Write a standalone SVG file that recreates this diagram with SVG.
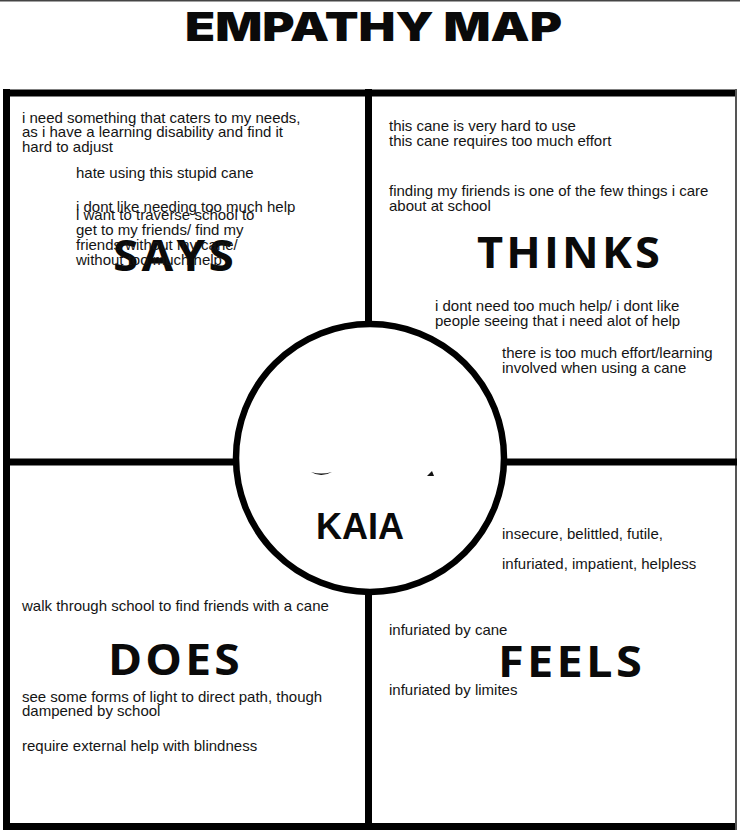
<svg xmlns="http://www.w3.org/2000/svg" width="740" height="831" viewBox="0 0 740 831">
<style>
.t{font-family:"Liberation Sans",Arial,sans-serif;font-size:15px;fill:#141414}
.lbl{font-family:"Open Sans","Liberation Sans",sans-serif;font-weight:700;font-size:43px;fill:#0a0a0a;letter-spacing:3px}
.ttl{font-family:Inter,"Liberation Sans",sans-serif;font-weight:900;font-size:40px;fill:#0a0a0a}
.line{stroke:#000;stroke-width:7;fill:none}
</style>
<rect width="740" height="831" fill="#fff"/>
<rect x="0" y="0" width="740" height="1.5" fill="#444"/>
<g id="title"><text class="ttl" x="185" y="41" textLength="377" lengthAdjust="spacingAndGlyphs">EMPATHY MAP</text></g>
<g id="connectors">
<line class="line" x1="3" y1="93" x2="737" y2="93"/>
<line class="line" x1="6.5" y1="89" x2="6.5" y2="830"/>
<line class="line" x1="3" y1="826.5" x2="737" y2="826.5"/>
<line x1="736" y1="89" x2="736" y2="830" stroke="#555" stroke-width="2"/>
<line class="line" x1="368.5" y1="89" x2="368.5" y2="830"/>
<line class="line" x1="3" y1="462" x2="737" y2="462"/>
</g>
<g id="says">
<text class="lbl" x="113" y="271" textLength="124" lengthAdjust="spacingAndGlyphs" font-weight="800" letter-spacing="0">SAYS</text>
<text class="t" x="22" y="123">i need something that caters to my needs,</text>
<text class="t" x="22" y="137">as i have a learning disability and find it</text>
<text class="t" x="22" y="152">hard to adjust</text>
<text class="t" x="76" y="178">hate using this stupid cane</text>
<text class="t" x="76" y="212">i dont like needing too much help</text>
<text class="t" x="76" y="220">i want to traverse school to</text>
<text class="t" x="76" y="235">get to my friends/ find my</text>
<text class="t" x="76" y="250">friends without my cane/</text>
<text class="t" x="76" y="265">without too much help</text>
</g>
<g id="thinks">
<text class="lbl" x="477" y="268" textLength="186" lengthAdjust="spacingAndGlyphs">THINKS</text>
<text class="t" x="389" y="131">this cane is very hard to use</text>
<text class="t" x="389" y="146">this cane requires too much effort</text>
<text class="t" x="389" y="196">finding my firiends is one of the few things i care</text>
<text class="t" x="389" y="211">about at school</text>
<text class="t" x="435" y="311">i dont need too much help/ i dont like</text>
<text class="t" x="435" y="326">people seeing that i need alot of help</text>
<text class="t" x="502" y="358">there is too much effort/learning</text>
<text class="t" x="502" y="373">involved when using a cane</text>
</g>
<g id="does">
<text class="lbl" x="108" y="675" textLength="135" lengthAdjust="spacingAndGlyphs">DOES</text>
<text class="t" x="22" y="611">walk through school to find friends with a cane</text>
<text class="t" x="22" y="702">see some forms of light to direct path, though</text>
<text class="t" x="22" y="716">dampened by school</text>
<text class="t" x="22" y="751">require external help with blindness</text>
</g>
<g id="feels">
<text class="lbl" x="498" y="677" textLength="147" lengthAdjust="spacingAndGlyphs">FEELS</text>
<text class="t" x="502" y="539">insecure, belittled, futile,</text>
<text class="t" x="502" y="569">infuriated, impatient, helpless</text>
<text class="t" x="389" y="635">infuriated by cane</text>
<text class="t" x="389" y="695">infuriated by limites</text>
</g>
<g id="kaia">
<circle cx="370" cy="458" r="134" fill="#fff" stroke="#000" stroke-width="6.5"/>
<path d="M311,472 Q321,478 332,472 Q321,475 311,472 Z" fill="#111"/>
<path d="M427,476 L432,471 L434,476 Z" fill="#111"/>
<text x="360" y="539" text-anchor="middle" font-family="'Liberation Sans',Arial,sans-serif" font-weight="bold" font-size="36" fill="#0a0a0a">KAIA</text>
</g>
</svg>
